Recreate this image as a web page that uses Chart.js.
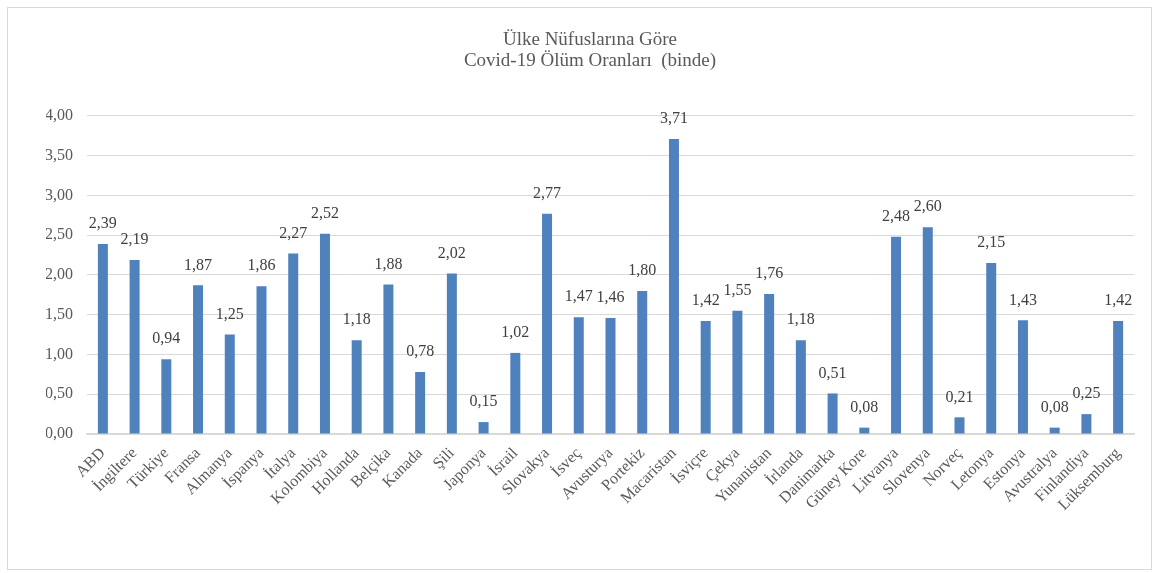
<!DOCTYPE html>
<html>
<head>
<meta charset="utf-8">
<script src="https://cdn.jsdelivr.net/npm/chart.js@4"></script>
<style>
  html, body { margin: 0; padding: 0; background: #fff; }
  #kutu {
    position: absolute; left: 7px; top: 7px;
    width: 1143px; height: 561px;
    border: 1px solid #d9d9d9;
  }
</style>
</head>
<body>
<div id="kutu"><canvas id="grafik" width="1143" height="561"></canvas></div>
<script>
// ülkeler ve binde ölüm oranları
const ulkeler = ['ABD', 'İngiltere', 'Türkiye', 'Fransa', 'Almanya', 'İspanya', 'İtalya', 'Kolombiya',
  'Hollanda', 'Belçika', 'Kanada', 'Şili', 'Japonya', 'İsrail', 'Slovakya', 'İsveç', 'Avusturya',
  'Portekiz', 'Macaristan', 'İsviçre', 'Çekya', 'Yunanistan', 'İrlanda', 'Danimarka', 'Güney Kore',
  'Litvanya', 'Slovenya', 'Norveç', 'Letonya', 'Estonya', 'Avustralya', 'Finlandiya', 'Lüksemburg'];
const oranlar = [2.39, 2.19, 0.94, 1.87, 1.25, 1.86, 2.27, 2.52, 1.18, 1.88, 0.78, 2.02, 0.15, 1.02,
  2.77, 1.47, 1.46, 1.80, 3.71, 1.42, 1.55, 1.76, 1.18, 0.51, 0.08, 2.48, 2.60, 0.21, 2.15, 1.43,
  0.08, 0.25, 1.42];
const baslik = ['Ülke Nüfuslarına Göre', 'Covid-19 Ölüm Oranları  (binde)'];

const YAZI = '"Liberation Serif", "Times New Roman", serif';
const virgullu = v => Number(v).toFixed(2).replace('.', ',');

// çubukların üstüne değerleri yazan küçük eklenti
const degerEtiketleri = {
  id: 'degerEtiketleri',
  afterDatasetsDraw(chart) {
    const ctx = chart.ctx;
    const meta = chart.getDatasetMeta(0);
    ctx.save();
    ctx.font = '16px ' + YAZI;
    ctx.fillStyle = '#404040';
    ctx.textAlign = 'center';
    ctx.textBaseline = 'middle';
    meta.data.forEach((bar, i) => {
      ctx.fillText(virgullu(chart.data.datasets[0].data[i]), bar.x, bar.y - 20);
    });
    ctx.restore();
  }
};

new Chart(document.getElementById('grafik'), {
  type: 'bar',
  data: {
    labels: ulkeler,
    datasets: [{
      data: oranlar,
      backgroundColor: '#4f81bd',
      barPercentage: 0.63,
      categoryPercentage: 0.5
    }]
  },
  options: {
    responsive: false,
    animation: false,
    // soldaki boşluk başlığı biraz sağa kaydırıyor, y ekseni daraltılarak dengeleniyor
    layout: { padding: { left: 38, right: 17, top: 0, bottom: 0 } },
    plugins: {
      legend: { display: false },
      tooltip: { enabled: false },
      title: {
        display: true,
        text: baslik,
        color: '#595959',
        font: { family: YAZI, size: 19, weight: 'normal', lineHeight: 1.105 },
        padding: { top: 22, bottom: 44 }
      }
    },
    scales: {
      y: {
        min: 0, max: 4,
        ticks: {
          stepSize: 0.5,
          color: '#595959',
          padding: 14,
          font: { family: YAZI, size: 16 },
          callback: v => virgullu(v)
        },
        grid: { color: '#d9d9d9', drawTicks: false },
        border: { display: false },
        afterFit(s) { s.width = 41; }
      },
      x: {
        ticks: {
          color: '#595959',
          minRotation: 45, maxRotation: 45,
          autoSkip: false,
          padding: 2,
          font: { family: YAZI, size: 16 }
        },
        grid: { display: false },
        border: { color: '#d9d9d9', width: 1.5 },
        afterFit(s) { s.height = 135; }
      }
    }
  },
  plugins: [degerEtiketleri]
});
</script>
</body>
</html>
